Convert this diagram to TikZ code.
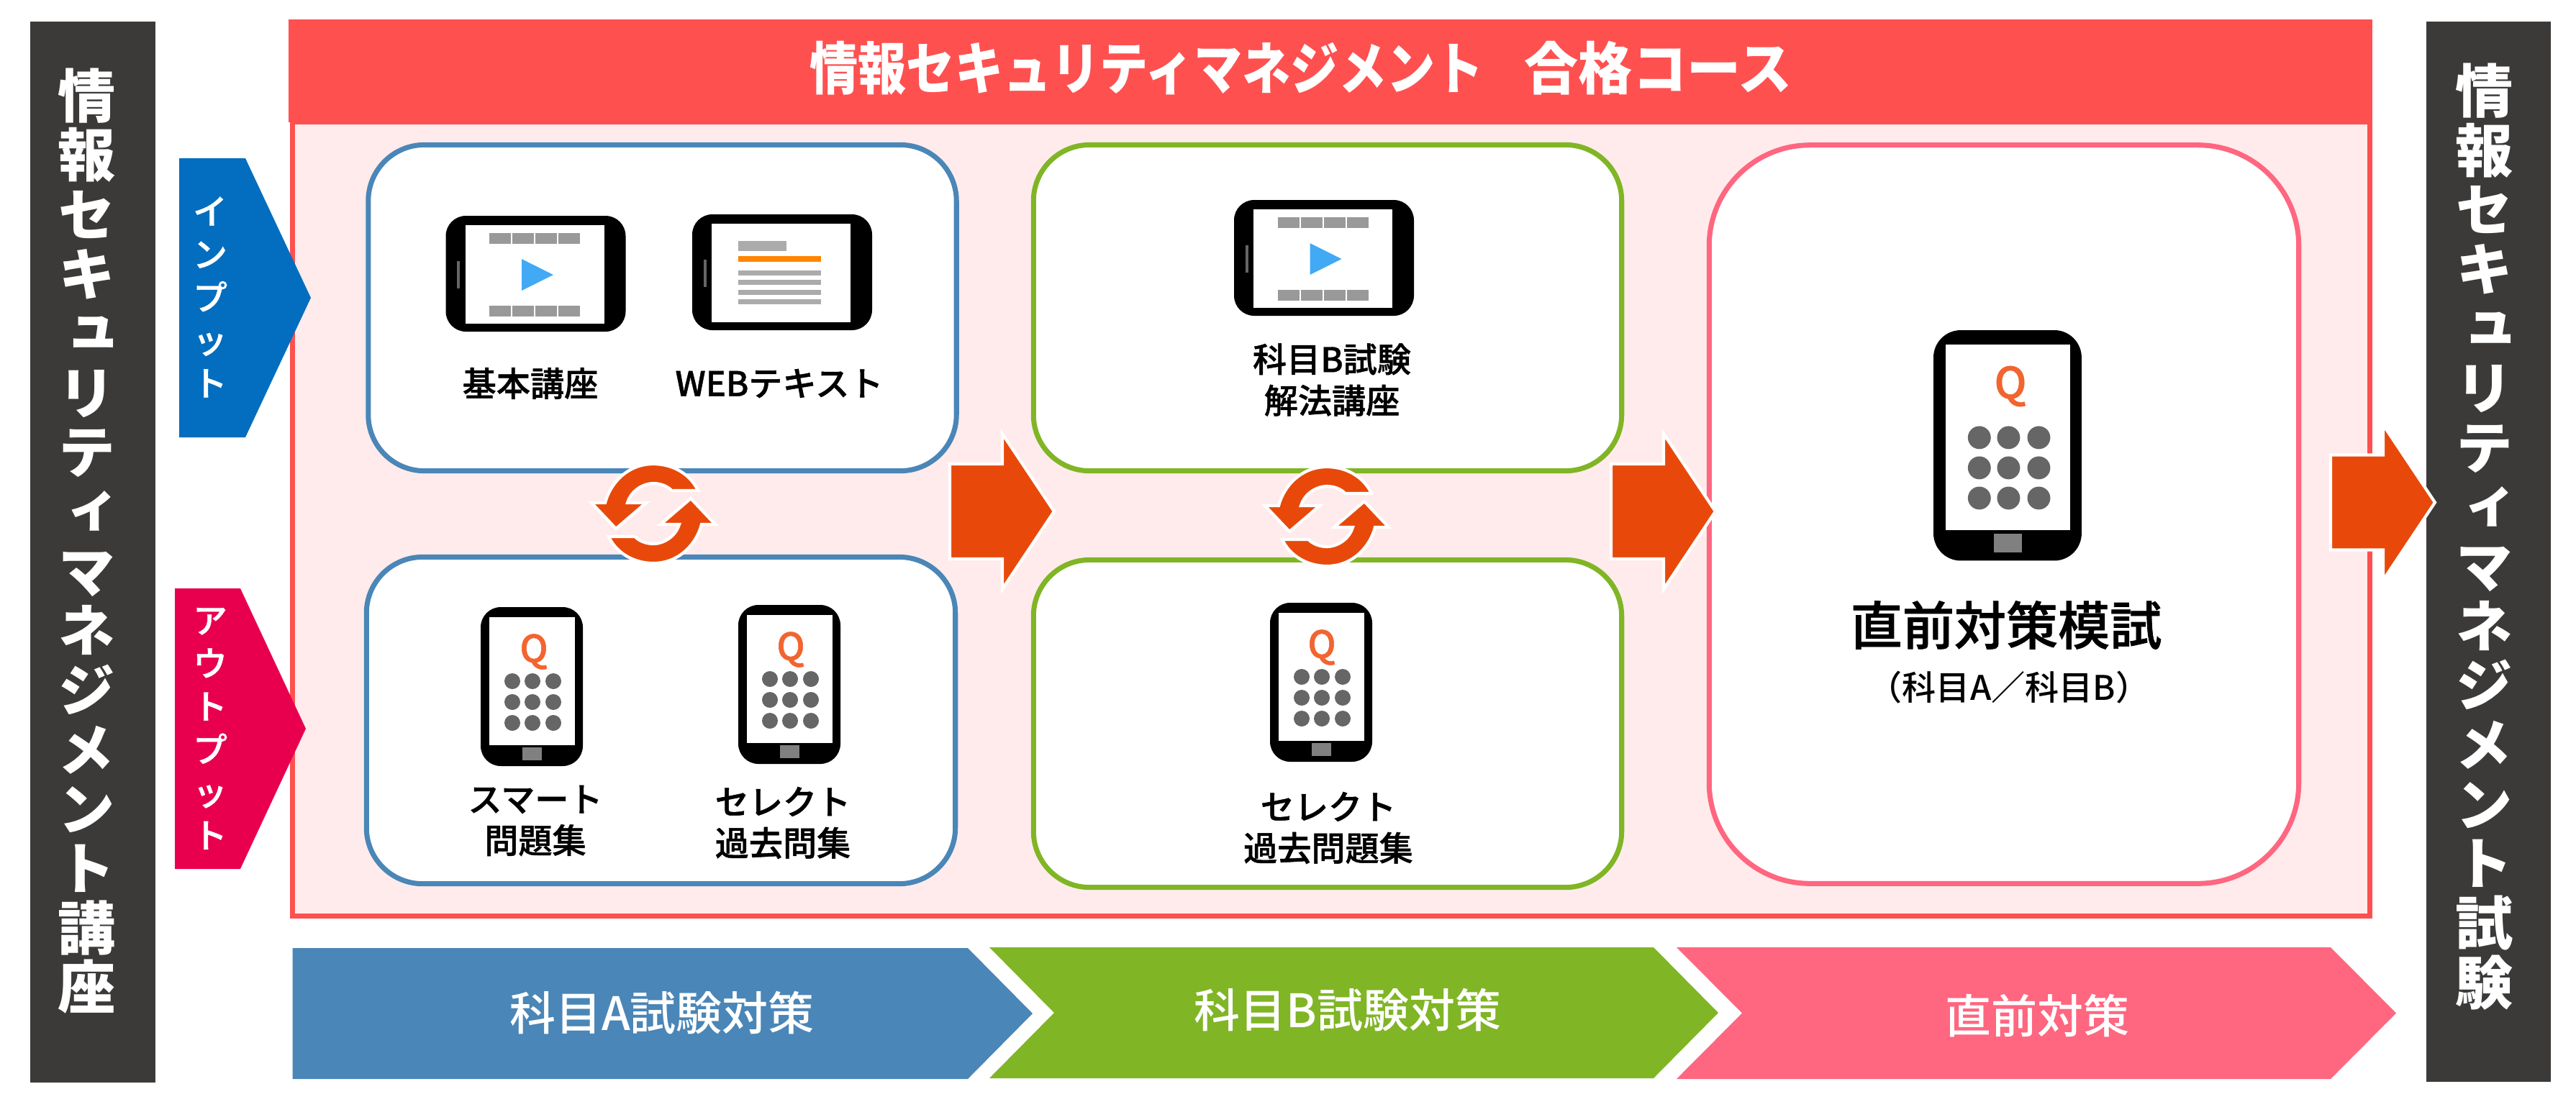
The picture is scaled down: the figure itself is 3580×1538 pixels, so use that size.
\documentclass[tikz,border=0pt]{standalone}
\usepackage{fontspec}
\setmainfont{Noto Sans CJK JP}
\newfontfamily\vertfont[RawFeature={+vert}]{Noto Sans CJK JP}
\newfontfamily\medfont{Noto Sans CJK JP Medium}
\newfontfamily\labelfont[FakeBold=1]{Noto Sans CJK JP Medium}
\definecolor{barcolor}{HTML}{3C3A38}
\definecolor{headcolor}{HTML}{FF5050}
\definecolor{panelcolor}{HTML}{FFEBEC}
\definecolor{colora}{HTML}{4A86B7}
\definecolor{colorb}{HTML}{80B525}
\definecolor{colorc}{HTML}{FF6680}
\definecolor{arrowcolor}{HTML}{E8490A}
\definecolor{inputcolor}{HTML}{036EBF}
\definecolor{outputcolor}{HTML}{E8004F}
\definecolor{quizcolor}{HTML}{F26430}
\definecolor{playcolor}{HTML}{42A9F5}
\definecolor{markcolor}{HTML}{FF8500}
\tikzset{
	pics/phone/.style={code={
		\fill[black, rounded corners=#1] (0,0) rectangle (142,221);
		\fill[white] (12,14) rectangle (131,192);
		\fill[gray] (58,195) rectangle (85,213);
		\foreach \dx in {44,72,101}
			\foreach \dy in {103,132,161}
				\fill[black!60] (\dx,\dy) circle [radius=11];
	}},
	pics/tablet/.style={code={
		\fill[black, rounded corners=.28cm] (0,0) rectangle (250,161);
		\fill[white] (27,13) rectangle (220,150);
		\fill[black!60] (15.5,63) rectangle (19.5,101);
	}},
	pics/videotablet/.style={code={
		\pic {tablet};
		\foreach \dx in {60.5,92.5,124.5,156.5} {
			\fill[black!40] (\dx,24) rectangle ++(30,15);
			\fill[black!40] (\dx,125) rectangle ++(30,15);
		}
		\fill[playcolor] (105.5,60) -- (149.5,82) -- (105.5,104) -- cycle;
	}},
	pics/texttablet/.style={code={
		\pic {tablet};
		\fill[black!33] (64,37) rectangle (131,51);
		\fill[markcolor] (64,58) rectangle (179,66);
		\foreach \dy in {78,91,105,118}
			\fill[black!33] (64,\dy) rectangle ++(115,7);
	}},
	pics/nextarrow/.style={code={
		\draw[white, fill=arrowcolor, line width=1.2pt, miter limit=10] (0,-66) -- (73,-66) -- (73,-108) -- (145,0) -- (73,108) -- (73,66) -- (0,66) -- cycle;
	}},
	pics/syncarrow/.style={code={
		\draw[white, fill=arrowcolor, line width=1.2pt] (-86,-15) -- (-52,21) -- (-10,-15) -- (-36,-15) .. controls (-31,-32) and (-14,-42) .. (0,-42) .. controls (10,-42) and (20,-38) .. (25.5,-32) -- (62,-32) .. controls (52,-54) and (28,-69) .. (0,-69) .. controls (-36,-69) and (-60,-42) .. (-67,-15) -- cycle;
	}}
}
\begin{document}
\begin{tikzpicture}[x=.01cm, y=-.01cm,
	bar/.style={rectangle, fill=barcolor, inner sep=0pt, minimum width=1.74cm},
	vtext/.style={text=white, align=center, font=\vertfont\bfseries\fontsize{22.8}{23.5}\selectfont},
	sidetext/.style={text=white, align=center, font=\labelfont\fontsize{13.6}{17}\selectfont},
	stepbox/.style={rectangle, draw=#1, fill=white, line width=2pt, rounded corners=.78cm, minimum width=8.17cm, minimum height=4.53cm, inner sep=0pt},
	label/.style={align=center, font=\labelfont\fontsize{13.4}{16.3}\selectfont},
	quiz/.style={text=quizcolor, inner sep=0pt, font=\labelfont\fontsize{14.8}{15}\selectfont},
	band/.style={text=white, font=\medfont\fontsize{18.2}{20}\selectfont}]
	\useasboundingbox (0,0) rectangle (3580,1538);
	\node[bar, minimum height=14.75cm] (leftbar) at (129,767.5) {};
	\node[vtext] (lefttext) at (121,752) {情\\報\\セ\\キ\\ュ\\リ\\テ\\ィ\\マ\\ネ\\ジ\\メ\\ン\\ト\\講\\座};
	\node[bar, minimum width=1.73cm, minimum height=14.74cm] (rightbar) at (3458.5,767) {};
	\node[vtext] (righttext) at (3453,746) {情\\報\\セ\\キ\\ュ\\リ\\テ\\ィ\\マ\\ネ\\ジ\\メ\\ン\\ト\\試\\験};
	\node[rectangle, draw=headcolor, fill=panelcolor, line width=2pt, minimum width=28.85cm, minimum height=11.04cm, inner sep=0pt] (panel) at (1850,721.5) {};
	\node[rectangle, fill=headcolor, minimum width=28.94cm, minimum height=1.43cm, inner sep=0pt] (header) at (1849,98.5) {};
	\node[text=white, font=\bfseries\fontsize{22.4}{24}\selectfont] (title) at (1808,95) {\scalebox{.853}[1]{情報セキュリティマネジメント}\hspace{.72em}\scalebox{.953}[1]{合格コース}};
	\fill[inputcolor] (249,220) -- (341,220) -- (432,414) -- (341,608) -- (249,608) -- cycle;
	\node[sidetext] (input) at (292,413) {イ\\ン\\プ\\ッ\\ト};
	\fill[outputcolor] (243,818) -- (334,818) -- (425,1013) -- (334,1208) -- (243,1208) -- cycle;
	\node[sidetext] (output) at (292,1013) {ア\\ウ\\ト\\プ\\ッ\\ト};
	\node[stepbox=colora] (basic) at (920.5,428) {};
	\node[stepbox=colora, minimum width=8.18cm, minimum height=4.54cm] (drill) at (918.5,1001.5) {};
	\node[stepbox=colorb] (method) at (1845,428) {};
	\node[stepbox=colorb, minimum height=4.55cm] (select) at (1845,1006) {};
	\node[stepbox=colorc, rounded corners=1.4cm, minimum width=8.19cm, minimum height=10.26cm] (mock) at (2785,715) {};
	\pic at (619.5,300) {videotablet};
	\pic at (962,298) {texttablet};
	\pic at (1715,278) {videotablet};
	\pic at (668,844) {phone=.28cm};
	\pic at (1026,841) {phone=.28cm};
	\pic at (1765,838) {phone=.28cm};
	\pic[scale=1.45] at (2687,459) {phone=.38cm};
	\node[quiz] (qa) at (742,906) {Q};
	\node[quiz] (qb) at (1099,903) {Q};
	\node[quiz] (qc) at (1837,900) {Q};
	\node[quiz, font=\labelfont\fontsize{17}{18}\selectfont] (qd) at (2794,537) {Q};
	\node[label] (basiclabel) at (737,533) {基本講座};
	\node[label] (weblabel) at (1083,533) {WEBテキスト};
	\node[label] (smartlabel) at (744,1141) {スマート\\問題集};
	\node[label] (pastlabel) at (1088,1144) {セレクト\\過去問集};
	\node[label] (methodlabel) at (1851,528) {科目B試験\\解法講座};
	\node[label] (selectlabel) at (1846,1151) {セレクト\\過去問題集};
	\node[label, font=\labelfont\fontsize{20.5}{24}\selectfont] (mocklabel) at (2788,869) {直前対策模試};
	\node[label, font=\medfont\fontsize{13.4}{16.3}\selectfont] (mocksub) at (2792,956) {（科目A／科目B）};
	\foreach \sx/\sy in {908/714, 1844/718} {
		\pic at (\sx,\sy) {syncarrow};
		\pic[rotate=180] at (\sx,\sy) {syncarrow};
	}
	\pic at (1320,711) {nextarrow};
	\pic at (2239,711) {nextarrow};
	\pic at (3239,698.5) {nextarrow};
	\fill[colora] (406.5,1318) -- (1345,1318) -- (1435,1409) -- (1345,1500) -- (406.5,1500) -- cycle;
	\fill[colorb] (1375,1317) -- (2298,1317) -- (2388,1408) -- (2298,1499) -- (1375,1499) -- (1465,1408) -- cycle;
	\fill[colorc] (2330,1317) -- (3239,1317) -- (3330,1408.5) -- (3239,1500) -- (2330,1500) -- (2421,1408.5) -- cycle;
	\node[band] (banda) at (920,1408) {科目A試験対策};
	\node[band] (bandb) at (1873,1404) {科目B試験対策};
	\node[band] (bandc) at (2831,1412) {直前対策};
\end{tikzpicture}
\end{document}
